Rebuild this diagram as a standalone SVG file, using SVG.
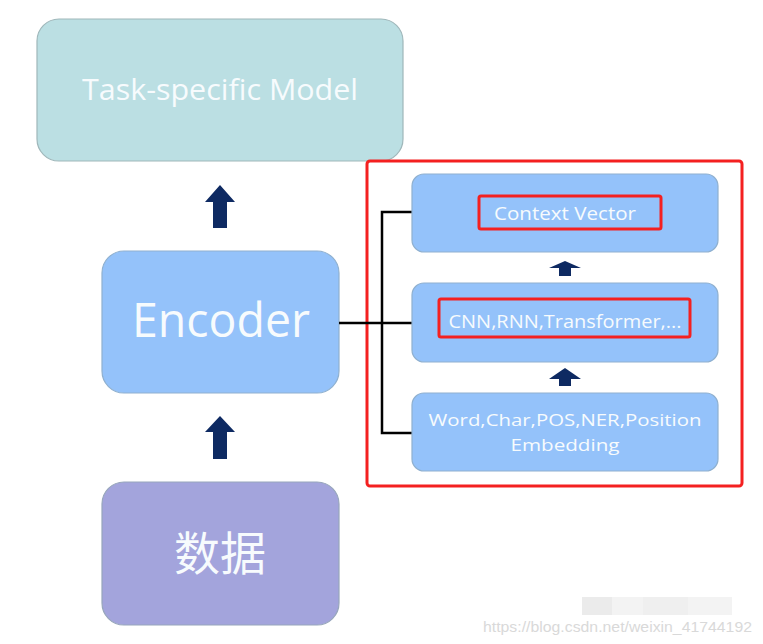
<svg xmlns="http://www.w3.org/2000/svg" width="763" height="644" viewBox="0 0 763 644">
<style>
  .t{font-family:"Open Sans","Noto Sans","Noto Sans CJK SC",sans-serif;fill:#f7fbfd;text-anchor:middle}
  .blue{fill:#94c2fa;stroke:#8fb0cf;stroke-width:1.2}
  .hl{fill:none;stroke:#f42020;stroke-width:3}
  .arr{fill:#0e2a62}
  .conn{fill:none;stroke:#000;stroke-width:2.5}
</style>
<rect width="763" height="644" fill="#fff"/>
<g id="task">
  <rect x="37" y="19" width="366" height="142" rx="22" fill="#bbdfe3" stroke="#9fb7ba" stroke-width="1.2"/>
  <text class="t" x="220" y="100" font-size="30" textLength="276" lengthAdjust="spacingAndGlyphs">Task-specific Model</text>
</g>
<g id="encoder">
  <rect x="102" y="251" width="237" height="142" rx="22" class="blue"/>
  <text class="t" x="221" y="337" font-size="47" textLength="178" lengthAdjust="spacingAndGlyphs">Encoder</text>
</g>
<g id="data">
  <rect x="102" y="482" width="237" height="143" rx="22" fill="#a3a4dc" stroke="#97a6bb" stroke-width="1.2"/>
  <text class="t" x="220" y="570" font-size="46">数据</text>
</g>
<g id="arrows">
  <path class="arr" d="M220 185 L235 202 L227 202 L227 228 L213 228 L213 202 L205 202 Z"/>
  <path class="arr" d="M220 416 L235 432 L227 432 L227 459 L213 459 L213 432 L205 432 Z"/>
  <path class="arr" d="M565 261 L581 268 L571 268 L571 276 L559 276 L559 268 L549 268 Z"/>
  <path class="arr" d="M565 368 L581 379 L571 379 L571 386 L559 386 L559 379 L549 379 Z"/>
</g>
<g id="group-frame">
  <rect x="367" y="161" width="375" height="325" rx="3" class="hl"/>
</g>
<g id="connectors">
  <path class="conn" d="M339 323 H412"/>
  <path class="conn" d="M412 212 H382 V433 H412"/>
</g>
<g id="context">
  <rect x="412" y="174" width="306" height="78" rx="12" class="blue"/>
  <rect x="479" y="196" width="182" height="33" rx="2" class="hl"/>
  <text class="t" x="565" y="220" font-size="19" textLength="142" lengthAdjust="spacingAndGlyphs">Context Vector</text>
</g>
<g id="cnn">
  <rect x="412" y="283" width="306" height="79" rx="12" class="blue"/>
  <rect x="439" y="299" width="251" height="38" rx="2" class="hl"/>
  <text class="t" x="565" y="328" font-size="19" textLength="233" lengthAdjust="spacingAndGlyphs">CNN,RNN,Transformer,...</text>
</g>
<g id="embedding">
  <rect x="412" y="393" width="306" height="78" rx="12" class="blue"/>
  <text class="t" x="565" y="426" font-size="17" textLength="273" lengthAdjust="spacingAndGlyphs">Word,Char,POS,NER,Position</text>
  <text class="t" x="565" y="451" font-size="17" textLength="109" lengthAdjust="spacingAndGlyphs">Embedding</text>
</g>
<g id="watermark">
  <rect x="582" y="597" width="150" height="18" fill="#f3f3f3"/>
  <rect x="582" y="597" width="30" height="18" fill="#ebebeb"/>
  <rect x="643" y="597" width="45" height="18" fill="#efefef"/>
  <text x="483" y="632" font-family="Liberation Sans,Arial,sans-serif" font-size="15" fill="#d9d9d9" textLength="269" lengthAdjust="spacingAndGlyphs">https://blog.csdn.net/weixin_41744192</text>
</g>
</svg>
